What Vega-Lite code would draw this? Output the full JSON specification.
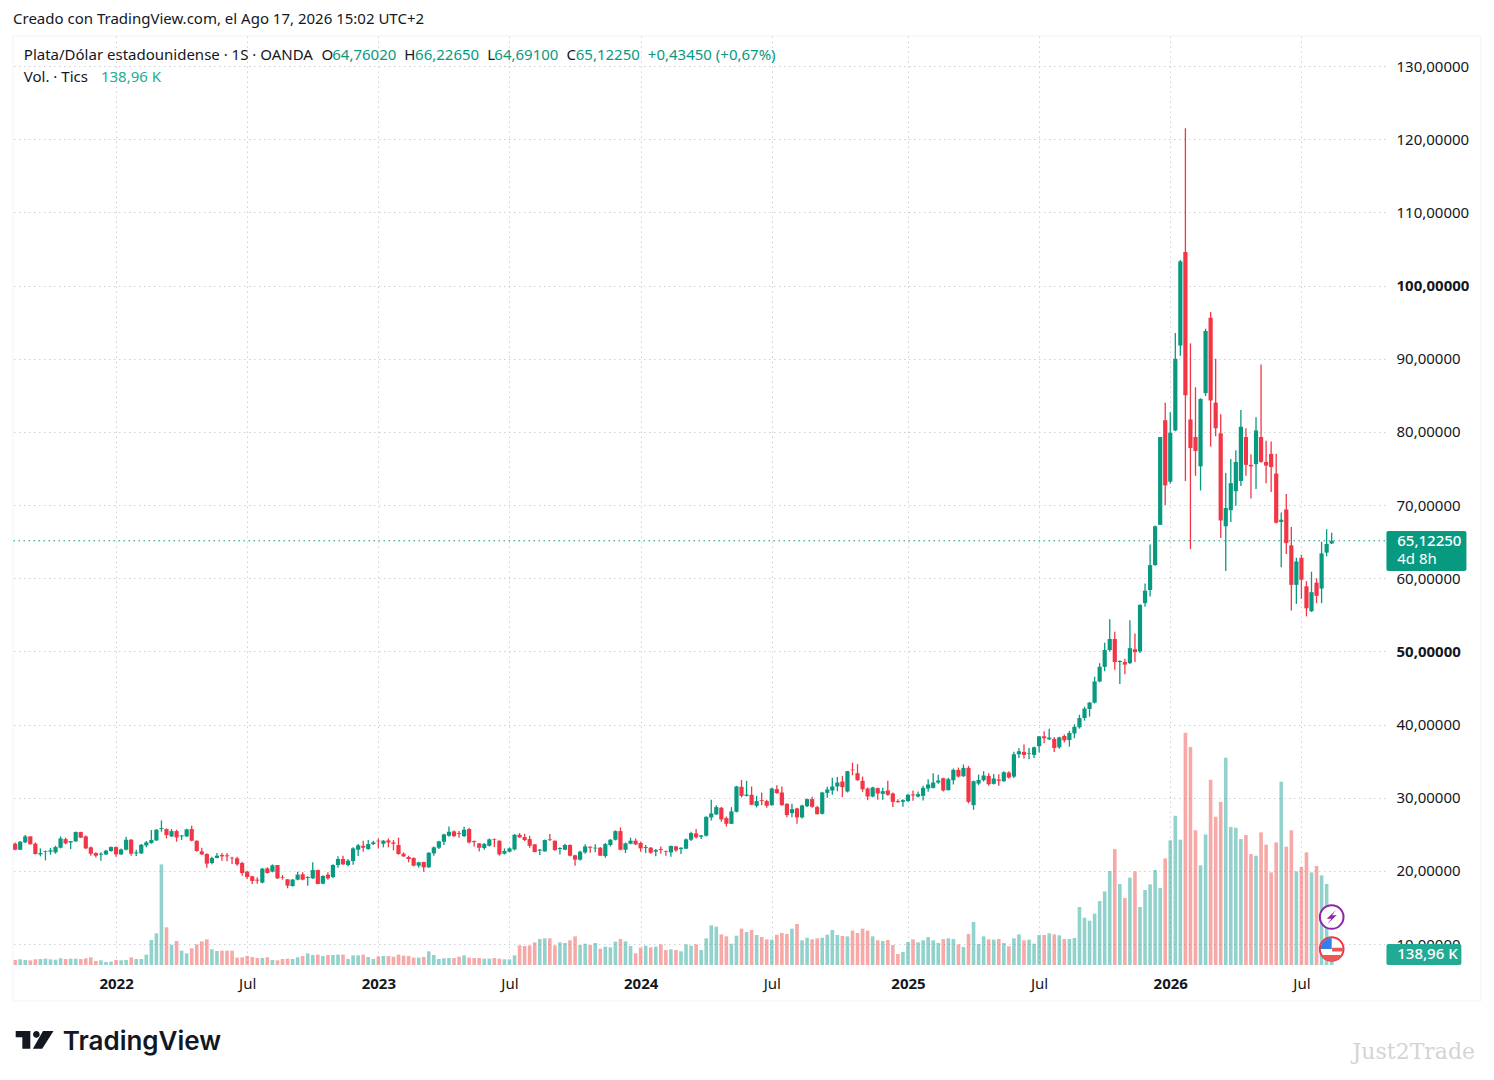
{
"$schema":"https://vega.github.io/schema/vega-lite/v6.json",
"description":"Plata/Dólar estadounidense, velas semanales OANDA con volumen de tics.",
"width":1372,"height":929,
"autosize":"none",
"padding":{"left":13,"top":36,"right":109,"bottom":115},
"background":"#ffffff",
"title":{"text":"Creado con TradingView.com, el Ago 17, 2026 15:02 UTC+2","anchor":"start","frame":"group","font":"Noto Sans","fontSize":15,"fontWeight":"normal","color":"#131722","offset":9},
"config":{"view":{"stroke":null},"axis":{"title":null},"text":{"font":"Noto Sans","fontSize":15}},
"datasets":{"semanal":[
{"d":"2021-08-16","o":23.73,"h":23.91,"l":22.82,"c":22.91,"v":63},
{"d":"2021-08-23","o":22.91,"h":24.09,"l":22.91,"c":24.0,"v":72},
{"d":"2021-08-30","o":23.91,"h":24.91,"l":23.82,"c":24.73,"v":63},
{"d":"2021-09-06","o":24.73,"h":24.73,"l":23.64,"c":23.64,"v":59},
{"d":"2021-09-13","o":23.73,"h":23.91,"l":22.27,"c":22.32,"v":72},
{"d":"2021-09-20","o":22.27,"h":23.09,"l":22.0,"c":22.45,"v":76},
{"d":"2021-09-27","o":22.59,"h":22.82,"l":21.45,"c":22.68,"v":80},
{"d":"2021-10-04","o":22.64,"h":23.14,"l":22.23,"c":22.82,"v":72},
{"d":"2021-10-11","o":22.55,"h":23.45,"l":22.36,"c":23.27,"v":67},
{"d":"2021-10-18","o":23.18,"h":24.73,"l":23.09,"c":24.45,"v":84},
{"d":"2021-10-25","o":24.36,"h":24.55,"l":23.64,"c":23.77,"v":76},
{"d":"2021-11-01","o":23.91,"h":24.09,"l":23.0,"c":24.09,"v":80},
{"d":"2021-11-08","o":24.05,"h":25.41,"l":24.0,"c":25.32,"v":80},
{"d":"2021-11-15","o":25.32,"h":25.36,"l":24.55,"c":24.55,"v":76},
{"d":"2021-11-22","o":24.73,"h":24.86,"l":23.0,"c":23.09,"v":84},
{"d":"2021-11-29","o":23.23,"h":23.36,"l":22.09,"c":22.36,"v":97},
{"d":"2021-12-06","o":22.45,"h":22.55,"l":21.86,"c":22.09,"v":51},
{"d":"2021-12-13","o":22.23,"h":22.55,"l":21.41,"c":22.36,"v":59},
{"d":"2021-12-20","o":22.27,"h":22.91,"l":22.18,"c":22.77,"v":38},
{"d":"2021-12-27","o":22.73,"h":23.36,"l":22.64,"c":23.27,"v":42},
{"d":"2022-01-03","o":23.27,"h":23.36,"l":21.95,"c":22.27,"v":63},
{"d":"2022-01-10","o":22.27,"h":23.09,"l":22.18,"c":22.95,"v":59},
{"d":"2022-01-17","o":22.91,"h":24.68,"l":22.82,"c":24.27,"v":63},
{"d":"2022-01-24","o":24.27,"h":24.36,"l":22.09,"c":22.36,"v":97},
{"d":"2022-01-31","o":22.41,"h":22.91,"l":22.05,"c":22.55,"v":76},
{"d":"2022-02-07","o":22.41,"h":23.68,"l":22.32,"c":23.59,"v":76},
{"d":"2022-02-14","o":23.5,"h":24.09,"l":23.23,"c":23.91,"v":131},
{"d":"2022-02-21","o":23.82,"h":25.59,"l":23.73,"c":24.23,"v":316},
{"d":"2022-02-28","o":24.18,"h":25.73,"l":24.09,"c":25.64,"v":400},
{"d":"2022-03-07","o":25.73,"h":26.91,"l":25.36,"c":25.86,"v":1271},
{"d":"2022-03-14","o":25.73,"h":25.82,"l":24.45,"c":24.91,"v":476},
{"d":"2022-03-21","o":24.73,"h":25.73,"l":24.64,"c":25.45,"v":257},
{"d":"2022-03-28","o":25.45,"h":25.64,"l":24.0,"c":24.59,"v":303},
{"d":"2022-04-04","o":24.73,"h":24.91,"l":24.23,"c":24.86,"v":181},
{"d":"2022-04-11","o":24.73,"h":25.77,"l":24.64,"c":25.68,"v":147},
{"d":"2022-04-18","o":25.73,"h":26.18,"l":24.05,"c":24.14,"v":211},
{"d":"2022-04-25","o":24.14,"h":24.18,"l":22.64,"c":22.73,"v":261},
{"d":"2022-05-02","o":22.68,"h":23.18,"l":22.18,"c":22.27,"v":299},
{"d":"2022-05-09","o":22.32,"h":22.41,"l":20.45,"c":21.0,"v":324},
{"d":"2022-05-16","o":21.09,"h":21.95,"l":20.91,"c":21.77,"v":198},
{"d":"2022-05-23","o":21.77,"h":22.45,"l":21.73,"c":22.09,"v":177},
{"d":"2022-05-30","o":22.18,"h":22.45,"l":21.41,"c":22.0,"v":181},
{"d":"2022-06-06","o":22.14,"h":22.45,"l":21.32,"c":22.0,"v":181},
{"d":"2022-06-13","o":21.82,"h":21.95,"l":20.95,"c":21.73,"v":181},
{"d":"2022-06-20","o":21.73,"h":21.95,"l":20.73,"c":20.91,"v":93},
{"d":"2022-06-27","o":21.09,"h":21.27,"l":19.36,"c":19.73,"v":97},
{"d":"2022-07-04","o":19.91,"h":20.05,"l":18.91,"c":19.18,"v":114},
{"d":"2022-07-11","o":19.27,"h":19.36,"l":18.23,"c":18.64,"v":101},
{"d":"2022-07-18","o":18.82,"h":19.14,"l":18.27,"c":18.68,"v":88},
{"d":"2022-07-25","o":18.41,"h":20.41,"l":18.32,"c":20.32,"v":88},
{"d":"2022-08-01","o":20.36,"h":20.5,"l":19.64,"c":19.73,"v":97},
{"d":"2022-08-08","o":19.91,"h":20.91,"l":19.82,"c":20.77,"v":63},
{"d":"2022-08-15","o":20.82,"h":20.82,"l":18.91,"c":19.0,"v":59},
{"d":"2022-08-22","o":19.14,"h":19.45,"l":18.82,"c":19.05,"v":76},
{"d":"2022-08-29","o":18.86,"h":18.91,"l":17.64,"c":18.0,"v":80},
{"d":"2022-09-05","o":17.95,"h":18.91,"l":17.86,"c":18.82,"v":76},
{"d":"2022-09-12","o":18.82,"h":19.91,"l":18.73,"c":19.5,"v":97},
{"d":"2022-09-19","o":19.55,"h":19.82,"l":18.73,"c":18.82,"v":114},
{"d":"2022-09-26","o":19.05,"h":19.27,"l":18.0,"c":19.18,"v":147},
{"d":"2022-10-03","o":19.0,"h":21.18,"l":18.91,"c":20.14,"v":126},
{"d":"2022-10-10","o":20.14,"h":20.18,"l":18.18,"c":18.23,"v":131},
{"d":"2022-10-17","o":18.27,"h":19.41,"l":18.18,"c":19.32,"v":114},
{"d":"2022-10-24","o":19.5,"h":19.82,"l":18.82,"c":19.0,"v":126},
{"d":"2022-10-31","o":19.18,"h":20.91,"l":19.0,"c":20.82,"v":126},
{"d":"2022-11-07","o":20.82,"h":22.0,"l":20.45,"c":21.64,"v":131},
{"d":"2022-11-14","o":21.64,"h":22.09,"l":20.82,"c":20.91,"v":131},
{"d":"2022-11-21","o":20.82,"h":21.64,"l":20.64,"c":21.41,"v":76},
{"d":"2022-11-28","o":21.36,"h":23.23,"l":20.86,"c":23.09,"v":122},
{"d":"2022-12-05","o":22.91,"h":23.68,"l":22.05,"c":23.5,"v":122},
{"d":"2022-12-12","o":23.45,"h":24.14,"l":22.64,"c":23.18,"v":131},
{"d":"2022-12-19","o":23.0,"h":24.23,"l":22.91,"c":23.68,"v":101},
{"d":"2022-12-26","o":23.68,"h":24.14,"l":23.55,"c":23.91,"v":76},
{"d":"2023-01-02","o":24.14,"h":24.45,"l":23.09,"c":24.05,"v":109},
{"d":"2023-01-09","o":23.73,"h":24.23,"l":23.23,"c":24.14,"v":114},
{"d":"2023-01-16","o":24.18,"h":24.45,"l":23.23,"c":23.91,"v":114},
{"d":"2023-01-23","o":23.91,"h":24.23,"l":22.82,"c":23.73,"v":105},
{"d":"2023-01-30","o":23.55,"h":24.55,"l":22.23,"c":22.32,"v":131},
{"d":"2023-02-06","o":22.36,"h":22.55,"l":21.91,"c":22.0,"v":118},
{"d":"2023-02-13","o":21.91,"h":22.09,"l":21.18,"c":21.64,"v":114},
{"d":"2023-02-20","o":21.77,"h":21.86,"l":20.64,"c":20.73,"v":93},
{"d":"2023-02-27","o":20.73,"h":21.27,"l":20.45,"c":21.18,"v":93},
{"d":"2023-03-06","o":21.23,"h":21.27,"l":19.91,"c":20.5,"v":101},
{"d":"2023-03-13","o":20.5,"h":22.55,"l":20.45,"c":22.5,"v":173},
{"d":"2023-03-20","o":22.41,"h":23.36,"l":22.09,"c":23.23,"v":126},
{"d":"2023-03-27","o":23.18,"h":24.14,"l":23.0,"c":24.05,"v":76},
{"d":"2023-04-03","o":24.0,"h":25.09,"l":23.55,"c":25.0,"v":84},
{"d":"2023-04-10","o":24.82,"h":26.09,"l":24.68,"c":25.36,"v":88},
{"d":"2023-04-17","o":25.41,"h":25.55,"l":24.64,"c":24.77,"v":88},
{"d":"2023-04-24","o":25.18,"h":25.45,"l":24.55,"c":25.05,"v":105},
{"d":"2023-05-01","o":24.77,"h":26.05,"l":24.64,"c":25.64,"v":122},
{"d":"2023-05-08","o":25.73,"h":25.91,"l":23.77,"c":23.91,"v":93},
{"d":"2023-05-15","o":24.09,"h":24.18,"l":23.36,"c":23.95,"v":88},
{"d":"2023-05-22","o":23.77,"h":23.82,"l":22.68,"c":23.18,"v":88},
{"d":"2023-05-29","o":23.14,"h":23.82,"l":22.91,"c":23.68,"v":80},
{"d":"2023-06-05","o":23.45,"h":24.45,"l":23.36,"c":24.32,"v":80},
{"d":"2023-06-12","o":24.36,"h":24.45,"l":23.27,"c":24.27,"v":88},
{"d":"2023-06-19","o":24.14,"h":24.18,"l":22.09,"c":22.27,"v":80},
{"d":"2023-06-26","o":22.36,"h":23.09,"l":22.27,"c":22.73,"v":72},
{"d":"2023-07-03","o":22.64,"h":23.23,"l":22.55,"c":23.09,"v":72},
{"d":"2023-07-10","o":22.95,"h":25.05,"l":22.82,"c":24.95,"v":122},
{"d":"2023-07-17","o":24.95,"h":25.18,"l":24.55,"c":24.59,"v":248},
{"d":"2023-07-24","o":24.64,"h":25.09,"l":24.09,"c":24.23,"v":240},
{"d":"2023-07-31","o":24.36,"h":24.82,"l":23.18,"c":23.45,"v":248},
{"d":"2023-08-07","o":23.64,"h":23.68,"l":22.55,"c":22.59,"v":286},
{"d":"2023-08-14","o":22.77,"h":23.0,"l":22.18,"c":22.91,"v":328},
{"d":"2023-08-21","o":22.68,"h":24.32,"l":22.64,"c":24.23,"v":337},
{"d":"2023-08-28","o":24.32,"h":25.05,"l":24.09,"c":24.23,"v":337},
{"d":"2023-09-04","o":24.14,"h":24.18,"l":22.77,"c":22.86,"v":248},
{"d":"2023-09-11","o":23.0,"h":23.23,"l":22.27,"c":23.14,"v":286},
{"d":"2023-09-18","o":22.91,"h":23.73,"l":22.82,"c":23.55,"v":278},
{"d":"2023-09-25","o":23.55,"h":23.64,"l":22.0,"c":22.09,"v":312},
{"d":"2023-10-02","o":22.14,"h":22.23,"l":20.73,"c":21.55,"v":362},
{"d":"2023-10-09","o":21.55,"h":22.77,"l":21.45,"c":22.64,"v":253},
{"d":"2023-10-16","o":22.55,"h":23.64,"l":22.36,"c":23.36,"v":269},
{"d":"2023-10-23","o":23.32,"h":23.36,"l":22.5,"c":23.18,"v":253},
{"d":"2023-10-30","o":23.09,"h":23.64,"l":22.55,"c":23.18,"v":278},
{"d":"2023-11-06","o":23.18,"h":23.27,"l":22.09,"c":22.09,"v":206},
{"d":"2023-11-13","o":22.05,"h":23.82,"l":21.82,"c":23.68,"v":232},
{"d":"2023-11-20","o":23.55,"h":24.36,"l":23.36,"c":24.27,"v":223},
{"d":"2023-11-27","o":24.27,"h":25.55,"l":24.18,"c":25.45,"v":295},
{"d":"2023-12-04","o":25.45,"h":25.95,"l":22.82,"c":22.91,"v":328},
{"d":"2023-12-11","o":22.91,"h":23.91,"l":22.45,"c":23.77,"v":299},
{"d":"2023-12-18","o":23.73,"h":24.55,"l":23.64,"c":24.14,"v":240},
{"d":"2023-12-25","o":24.14,"h":24.45,"l":23.55,"c":23.64,"v":147},
{"d":"2024-01-01","o":23.82,"h":24.0,"l":22.64,"c":23.09,"v":219},
{"d":"2024-01-08","o":23.14,"h":23.55,"l":22.45,"c":23.27,"v":244},
{"d":"2024-01-15","o":23.18,"h":23.27,"l":22.36,"c":22.5,"v":223},
{"d":"2024-01-22","o":22.64,"h":23.0,"l":22.0,"c":22.86,"v":232},
{"d":"2024-01-29","o":23.0,"h":23.36,"l":22.36,"c":22.86,"v":261},
{"d":"2024-02-05","o":22.73,"h":22.8,"l":22.09,"c":22.64,"v":189},
{"d":"2024-02-12","o":22.55,"h":23.5,"l":21.95,"c":23.41,"v":198},
{"d":"2024-02-19","o":23.36,"h":23.41,"l":22.64,"c":22.82,"v":189},
{"d":"2024-02-26","o":23.0,"h":23.23,"l":22.32,"c":23.18,"v":173},
{"d":"2024-03-04","o":23.05,"h":24.45,"l":23.0,"c":24.32,"v":261},
{"d":"2024-03-11","o":24.27,"h":25.36,"l":24.09,"c":25.18,"v":244},
{"d":"2024-03-18","o":25.14,"h":25.73,"l":24.45,"c":24.59,"v":261},
{"d":"2024-03-25","o":24.68,"h":24.91,"l":24.36,"c":24.86,"v":189},
{"d":"2024-04-01","o":24.82,"h":27.45,"l":24.73,"c":27.41,"v":337},
{"d":"2024-04-08","o":27.32,"h":29.73,"l":26.91,"c":27.86,"v":501},
{"d":"2024-04-15","o":27.73,"h":29.0,"l":27.64,"c":28.73,"v":484},
{"d":"2024-04-22","o":28.64,"h":28.73,"l":26.73,"c":27.05,"v":387},
{"d":"2024-04-29","o":27.23,"h":27.45,"l":26.05,"c":26.45,"v":362},
{"d":"2024-05-06","o":26.45,"h":28.73,"l":26.41,"c":28.14,"v":269},
{"d":"2024-05-13","o":28.09,"h":31.64,"l":28.0,"c":31.55,"v":370},
{"d":"2024-05-20","o":31.5,"h":32.45,"l":30.05,"c":30.27,"v":459},
{"d":"2024-05-27","o":30.27,"h":32.32,"l":30.18,"c":30.45,"v":417},
{"d":"2024-06-03","o":30.41,"h":31.55,"l":29.0,"c":29.05,"v":442},
{"d":"2024-06-10","o":28.91,"h":30.27,"l":28.68,"c":29.55,"v":379},
{"d":"2024-06-17","o":29.68,"h":30.73,"l":29.0,"c":29.55,"v":354},
{"d":"2024-06-24","o":29.55,"h":29.73,"l":28.64,"c":28.91,"v":324},
{"d":"2024-07-01","o":29.0,"h":31.36,"l":28.91,"c":31.27,"v":320},
{"d":"2024-07-08","o":31.18,"h":31.73,"l":30.55,"c":30.64,"v":383},
{"d":"2024-07-15","o":30.73,"h":31.55,"l":28.91,"c":29.0,"v":404},
{"d":"2024-07-22","o":29.18,"h":29.27,"l":27.36,"c":27.64,"v":392},
{"d":"2024-07-29","o":27.91,"h":29.18,"l":27.36,"c":28.45,"v":459},
{"d":"2024-08-05","o":28.55,"h":28.64,"l":26.45,"c":27.32,"v":518},
{"d":"2024-08-12","o":27.32,"h":29.05,"l":27.18,"c":28.95,"v":312},
{"d":"2024-08-19","o":28.86,"h":29.91,"l":28.73,"c":29.82,"v":345},
{"d":"2024-08-26","o":29.82,"h":30.14,"l":28.64,"c":28.77,"v":324},
{"d":"2024-09-02","o":28.73,"h":28.91,"l":27.73,"c":27.77,"v":337},
{"d":"2024-09-09","o":27.82,"h":30.82,"l":27.73,"c":30.73,"v":345},
{"d":"2024-09-16","o":30.68,"h":31.5,"l":30.0,"c":31.14,"v":383},
{"d":"2024-09-23","o":31.0,"h":32.73,"l":30.41,"c":31.55,"v":442},
{"d":"2024-09-30","o":31.55,"h":32.86,"l":30.91,"c":32.09,"v":379},
{"d":"2024-10-07","o":32.23,"h":33.0,"l":30.09,"c":31.45,"v":366},
{"d":"2024-10-14","o":30.86,"h":33.68,"l":30.73,"c":33.64,"v":362},
{"d":"2024-10-21","o":33.86,"h":34.82,"l":33.09,"c":33.77,"v":434},
{"d":"2024-10-28","o":33.36,"h":34.59,"l":32.32,"c":32.41,"v":404},
{"d":"2024-11-04","o":32.32,"h":32.91,"l":30.82,"c":31.18,"v":459},
{"d":"2024-11-11","o":31.27,"h":31.41,"l":29.68,"c":30.18,"v":434},
{"d":"2024-11-18","o":30.18,"h":31.5,"l":30.09,"c":31.41,"v":362},
{"d":"2024-11-25","o":31.32,"h":31.41,"l":29.73,"c":30.59,"v":312},
{"d":"2024-12-02","o":30.55,"h":31.36,"l":29.73,"c":30.91,"v":303},
{"d":"2024-12-09","o":31.0,"h":32.32,"l":30.27,"c":30.41,"v":316},
{"d":"2024-12-16","o":30.59,"h":30.73,"l":28.73,"c":29.45,"v":253},
{"d":"2024-12-23","o":29.55,"h":29.82,"l":29.32,"c":29.41,"v":139},
{"d":"2024-12-30","o":29.45,"h":29.82,"l":28.77,"c":29.68,"v":164},
{"d":"2025-01-06","o":29.55,"h":30.55,"l":29.45,"c":30.41,"v":290},
{"d":"2025-01-13","o":30.45,"h":31.0,"l":29.59,"c":30.32,"v":324},
{"d":"2025-01-20","o":30.18,"h":30.86,"l":30.05,"c":30.5,"v":286},
{"d":"2025-01-27","o":30.27,"h":31.64,"l":29.64,"c":31.36,"v":312},
{"d":"2025-02-03","o":31.27,"h":32.55,"l":30.82,"c":31.82,"v":354},
{"d":"2025-02-10","o":31.36,"h":33.36,"l":31.27,"c":32.09,"v":312},
{"d":"2025-02-17","o":32.09,"h":33.14,"l":31.91,"c":32.36,"v":278},
{"d":"2025-02-24","o":32.68,"h":32.73,"l":30.86,"c":31.0,"v":328},
{"d":"2025-03-03","o":31.05,"h":32.73,"l":31.0,"c":32.55,"v":337},
{"d":"2025-03-10","o":32.41,"h":34.0,"l":31.82,"c":33.82,"v":328},
{"d":"2025-03-17","o":33.82,"h":34.14,"l":32.77,"c":32.91,"v":261},
{"d":"2025-03-24","o":32.95,"h":34.55,"l":32.86,"c":34.09,"v":227},
{"d":"2025-03-31","o":34.09,"h":34.36,"l":29.23,"c":29.45,"v":392},
{"d":"2025-04-07","o":29.0,"h":32.36,"l":28.36,"c":32.27,"v":543},
{"d":"2025-04-14","o":31.95,"h":33.18,"l":31.73,"c":32.45,"v":265},
{"d":"2025-04-21","o":32.41,"h":33.64,"l":32.23,"c":33.05,"v":362},
{"d":"2025-04-28","o":33.0,"h":33.36,"l":31.64,"c":31.86,"v":324},
{"d":"2025-05-05","o":31.91,"h":33.27,"l":31.82,"c":32.64,"v":320},
{"d":"2025-05-12","o":32.5,"h":33.23,"l":31.64,"c":32.32,"v":328},
{"d":"2025-05-19","o":32.27,"h":33.64,"l":32.18,"c":33.5,"v":278},
{"d":"2025-05-26","o":33.45,"h":33.64,"l":32.64,"c":32.77,"v":236},
{"d":"2025-06-02","o":32.9,"h":36.3,"l":32.7,"c":35.95,"v":337},
{"d":"2025-06-09","o":35.95,"h":36.77,"l":35.45,"c":36.36,"v":387},
{"d":"2025-06-16","o":36.27,"h":37.27,"l":35.36,"c":35.86,"v":312},
{"d":"2025-06-23","o":36.0,"h":36.8,"l":35.27,"c":36.09,"v":320},
{"d":"2025-06-30","o":35.86,"h":37.0,"l":35.45,"c":36.9,"v":269},
{"d":"2025-07-07","o":37.05,"h":38.45,"l":36.18,"c":38.4,"v":379},
{"d":"2025-07-14","o":38.4,"h":39.1,"l":37.45,"c":38.14,"v":379},
{"d":"2025-07-21","o":38.0,"h":39.45,"l":37.9,"c":38.23,"v":400},
{"d":"2025-07-28","o":38.05,"h":38.3,"l":36.27,"c":36.8,"v":387},
{"d":"2025-08-04","o":36.9,"h":38.36,"l":36.7,"c":38.27,"v":375},
{"d":"2025-08-11","o":38.45,"h":38.64,"l":37.55,"c":37.86,"v":328},
{"d":"2025-08-18","o":37.9,"h":39.14,"l":37.0,"c":38.86,"v":328},
{"d":"2025-08-25","o":38.8,"h":40.05,"l":38.14,"c":39.7,"v":341},
{"d":"2025-09-01","o":39.64,"h":41.36,"l":39.45,"c":40.9,"v":733},
{"d":"2025-09-08","o":40.9,"h":42.45,"l":40.55,"c":42.18,"v":598},
{"d":"2025-09-15","o":42.14,"h":43.1,"l":41.1,"c":43.0,"v":560},
{"d":"2025-09-22","o":43.0,"h":46.55,"l":42.9,"c":45.9,"v":648},
{"d":"2025-09-29","o":45.9,"h":48.4,"l":45.8,"c":47.9,"v":808},
{"d":"2025-10-06","o":47.9,"h":51.2,"l":47.3,"c":50.2,"v":930},
{"d":"2025-10-13","o":50.2,"h":54.4,"l":50.0,"c":51.7,"v":1187},
{"d":"2025-10-20","o":51.7,"h":52.7,"l":47.5,"c":48.55,"v":1465},
{"d":"2025-10-27","o":48.55,"h":48.8,"l":45.55,"c":48.7,"v":1023},
{"d":"2025-11-03","o":48.55,"h":49.0,"l":46.9,"c":48.2,"v":846},
{"d":"2025-11-10","o":48.4,"h":54.27,"l":48.3,"c":50.45,"v":1103},
{"d":"2025-11-17","o":50.3,"h":52.45,"l":48.55,"c":49.9,"v":1183},
{"d":"2025-11-24","o":50.0,"h":56.45,"l":49.8,"c":56.36,"v":733},
{"d":"2025-12-01","o":56.6,"h":59.3,"l":56.1,"c":58.3,"v":947},
{"d":"2025-12-08","o":58.4,"h":64.6,"l":57.5,"c":61.8,"v":1019},
{"d":"2025-12-15","o":61.8,"h":67.2,"l":61.7,"c":67.1,"v":1200},
{"d":"2025-12-22","o":67.3,"h":79.3,"l":67.3,"c":79.3,"v":973},
{"d":"2025-12-29","o":81.6,"h":84.0,"l":70.0,"c":72.7,"v":1347},
{"d":"2026-01-05","o":73.2,"h":82.7,"l":72.9,"c":79.9,"v":1575},
{"d":"2026-01-12","o":80.2,"h":93.5,"l":80.1,"c":90.0,"v":1886},
{"d":"2026-01-19","o":91.8,"h":103.5,"l":90.4,"c":103.3,"v":1583},
{"d":"2026-01-26","o":104.6,"h":121.5,"l":73.3,"c":85.0,"v":2934},
{"d":"2026-02-02","o":81.7,"h":92.1,"l":64.0,"c":77.8,"v":2753},
{"d":"2026-02-09","o":79.3,"h":86.1,"l":74.0,"c":77.4,"v":1701},
{"d":"2026-02-16","o":75.3,"h":84.6,"l":72.0,"c":84.5,"v":1259},
{"d":"2026-02-23","o":85.3,"h":94.1,"l":84.9,"c":93.8,"v":1650},
{"d":"2026-03-02","o":95.6,"h":96.4,"l":78.0,"c":84.3,"v":2341},
{"d":"2026-03-09","o":84.0,"h":90.0,"l":79.4,"c":80.5,"v":1873},
{"d":"2026-03-16","o":79.8,"h":82.4,"l":65.5,"c":67.9,"v":2059},
{"d":"2026-03-23","o":67.1,"h":74.4,"l":61.0,"c":69.6,"v":2619},
{"d":"2026-03-30","o":69.3,"h":76.3,"l":67.7,"c":73.0,"v":1743},
{"d":"2026-04-06","o":71.9,"h":77.5,"l":69.9,"c":75.9,"v":1735},
{"d":"2026-04-13","o":73.3,"h":83.0,"l":72.6,"c":80.7,"v":1591},
{"d":"2026-04-20","o":79.3,"h":80.5,"l":74.0,"c":75.5,"v":1642},
{"d":"2026-04-27","o":75.5,"h":76.9,"l":70.9,"c":75.3,"v":1402},
{"d":"2026-05-04","o":75.6,"h":82.0,"l":72.2,"c":80.2,"v":1381},
{"d":"2026-05-11","o":79.3,"h":89.2,"l":75.8,"c":75.9,"v":1676},
{"d":"2026-05-18","o":75.9,"h":78.8,"l":73.0,"c":75.4,"v":1520},
{"d":"2026-05-25","o":77.0,"h":78.7,"l":71.8,"c":75.2,"v":1170},
{"d":"2026-06-01","o":74.3,"h":77.0,"l":67.5,"c":67.6,"v":1549},
{"d":"2026-06-08","o":67.7,"h":69.0,"l":61.5,"c":68.0,"v":2316},
{"d":"2026-06-15","o":69.4,"h":71.5,"l":63.3,"c":64.8,"v":1495},
{"d":"2026-06-22","o":64.5,"h":67.0,"l":55.6,"c":59.1,"v":1701},
{"d":"2026-06-29","o":59.1,"h":62.8,"l":56.5,"c":62.3,"v":1183},
{"d":"2026-07-06","o":62.8,"h":63.2,"l":57.2,"c":59.8,"v":1238},
{"d":"2026-07-13","o":58.9,"h":59.6,"l":54.8,"c":55.9,"v":1423},
{"d":"2026-07-20","o":55.5,"h":60.9,"l":55.4,"c":58.1,"v":1170},
{"d":"2026-07-27","o":59.4,"h":60.0,"l":56.6,"c":57.6,"v":1250},
{"d":"2026-08-03","o":58.6,"h":65.0,"l":56.6,"c":63.4,"v":1132},
{"d":"2026-08-10","o":63.5,"h":66.7,"l":63.0,"c":64.69,"v":1023},
{"d":"2026-08-17","o":64.7602,"h":66.2265,"l":64.691,"c":65.1225,"v":138.96}
]},
"resolve":{"scale":{"y":"independent"}},
"layer":[
{"layer":[
{"data":{"name":"semanal"},
"mark":{"type":"bar","size":3.6,"orient":"vertical","opacity":0.5},
"encoding":{
"x":{"field":"d","type":"temporal","scale":{"type":"utc","domain":["2021-08-13","2026-10-30"],"nice":false,"padding":0},
"axis":{"orient":"bottom","domain":false,"ticks":false,"labelPadding":11,"labelFont":"Noto Sans","labelFontSize":15,"labelColor":"#131722",
"grid":true,"gridColor":"#cdd0d8","gridDash":[1.5,3.5],"gridWidth":1,
"values":[{"year":2022,"month":1,"date":3,"utc":true},{"year":2022,"month":7,"date":4,"utc":true},{"year":2023,"month":1,"date":2,"utc":true},{"year":2023,"month":7,"date":3,"utc":true},{"year":2024,"month":1,"date":1,"utc":true},{"year":2024,"month":7,"date":1,"utc":true},{"year":2025,"month":1,"date":6,"utc":true},{"year":2025,"month":7,"date":7,"utc":true},{"year":2026,"month":1,"date":5,"utc":true},{"year":2026,"month":7,"date":6,"utc":true}],
"labelExpr":"utcmonth(datum.value)==6?'Jul':''+utcyear(datum.value)",
"labelFontWeight":{"condition":{"test":"utcmonth(datum.value)==0","value":700},"value":400}}},
"y":{"field":"v","type":"quantitative","scale":{"domain":[0,11736],"nice":false,"zero":true},"axis":null},
"color":{"condition":{"test":"datum.c>=datum.o","value":"#26a69a"},"value":"#ef5350"}}}
]},
{"data":{"values":[{}]},
"layer":[
{"mark":{"type":"rect","fillOpacity":0,"stroke":"#f0f3fa","strokeWidth":1},
"encoding":{"x":{"datum":{"year":2021,"month":8,"date":13,"utc":true},"type":"temporal"},"x2":{"datum":{"year":2027,"month":3,"date":12,"utc":true}},"y":{"datum":134.1,"scale":{"domain":[7.155,134.1],"nice":false,"zero":false},
"axis":{"orient":"right","domain":false,"ticks":false,"labelPadding":11,"labelFont":"Noto Sans","labelFontSize":15,"labelColor":"#131722",
"grid":true,"gridColor":"#cdd0d8","gridDash":[1.5,3.5],"gridWidth":1,
"values":[10,20,30,40,50,60,70,80,90,100,110,120,130],
"labelExpr":"replace(format(datum.value,'.5f'),'.',',')",
"labelFontWeight":{"condition":{"test":"datum.value==50||datum.value==100","value":700},"value":400}}},"y2":{"datum":2.24}}},
{"mark":{"type":"rule","color":"#089981","strokeDash":[1.5,3.5],"strokeWidth":1},
"encoding":{"y":{"datum":65.1225}}},
{"data":{"name":"semanal"},
"mark":{"type":"rule","strokeWidth":1.3},
"encoding":{"x":{"field":"d","type":"temporal"},"y":{"field":"l","type":"quantitative"},"y2":{"field":"h"},
"color":{"condition":{"test":"datum.c>=datum.o","value":"#089981"},"value":"#f23645"}}},
{"data":{"name":"semanal"},
"mark":{"type":"bar","size":4.2,"orient":"vertical"},
"encoding":{"x":{"field":"d","type":"temporal"},"y":{"field":"o","type":"quantitative"},"y2":{"field":"c"},
"color":{"condition":{"test":"datum.c>=datum.o","value":"#089981"},"value":"#f23645"}}},
{"mark":{"type":"text","text":"Plata/Dólar estadounidense · 1S · OANDA","align":"left","color":"#131722"},"encoding":{"x":{"datum":{"year":2021,"month":8,"date":28,"utc":true},"type":"temporal"},"y":{"datum":131.5}}},
{"mark":{"type":"text","text":"O","align":"left","color":"#131722"},"encoding":{"x":{"datum":{"year":2022,"month":10,"date":15,"utc":true},"type":"temporal"},"y":{"datum":131.5}}},
{"mark":{"type":"text","text":"64,76020","align":"left","color":"#089981"},"encoding":{"x":{"datum":{"year":2022,"month":10,"date":30,"utc":true},"type":"temporal"},"y":{"datum":131.5}}},
{"mark":{"type":"text","text":"H","align":"left","color":"#131722"},"encoding":{"x":{"datum":{"year":2023,"month":2,"date":7,"utc":true},"type":"temporal"},"y":{"datum":131.5}}},
{"mark":{"type":"text","text":"66,22650","align":"left","color":"#089981"},"encoding":{"x":{"datum":{"year":2023,"month":2,"date":22,"utc":true},"type":"temporal"},"y":{"datum":131.5}}},
{"mark":{"type":"text","text":"L","align":"left","color":"#131722"},"encoding":{"x":{"datum":{"year":2023,"month":6,"date":2,"utc":true},"type":"temporal"},"y":{"datum":131.5}}},
{"mark":{"type":"text","text":"64,69100","align":"left","color":"#089981"},"encoding":{"x":{"datum":{"year":2023,"month":6,"date":12,"utc":true},"type":"temporal"},"y":{"datum":131.5}}},
{"mark":{"type":"text","text":"C","align":"left","color":"#131722"},"encoding":{"x":{"datum":{"year":2023,"month":9,"date":20,"utc":true},"type":"temporal"},"y":{"datum":131.5}}},
{"mark":{"type":"text","text":"65,12250","align":"left","color":"#089981"},"encoding":{"x":{"datum":{"year":2023,"month":10,"date":3,"utc":true},"type":"temporal"},"y":{"datum":131.5}}},
{"mark":{"type":"text","text":"+0,43450 (+0,67%)","align":"left","color":"#089981"},"encoding":{"x":{"datum":{"year":2024,"month":1,"date":11,"utc":true},"type":"temporal"},"y":{"datum":131.5}}},
{"mark":{"type":"text","text":"Vol. · Tics","align":"left","color":"#131722"},"encoding":{"x":{"datum":{"year":2021,"month":8,"date":28,"utc":true},"type":"temporal"},"y":{"datum":128.5}}},
{"mark":{"type":"text","text":"138,96 K","align":"left","color":"#22ab94"},"encoding":{"x":{"datum":{"year":2021,"month":12,"date":13,"utc":true},"type":"temporal"},"y":{"datum":128.5}}},
{"mark":{"type":"rect","color":"#089981","cornerRadius":2},"encoding":{"x":{"datum":{"year":2026,"month":11,"date":1,"utc":true},"type":"temporal"},"x2":{"datum":{"year":2027,"month":2,"date":20,"utc":true}},"y":{"datum":66.46},"y2":{"datum":60.99}}},
{"mark":{"type":"text","text":"65,12250","align":"left","color":"#ffffff","fontWeight":500},"encoding":{"x":{"datum":{"year":2026,"month":11,"date":16,"utc":true},"type":"temporal"},"y":{"datum":65.12}}},
{"mark":{"type":"text","text":"4d 8h","align":"left","color":"#ffffff"},"encoding":{"x":{"datum":{"year":2026,"month":11,"date":16,"utc":true},"type":"temporal"},"y":{"datum":62.64}}},
{"mark":{"type":"rect","color":"#22ab94","cornerRadius":2},"encoding":{"x":{"datum":{"year":2026,"month":11,"date":1,"utc":true},"type":"temporal"},"x2":{"datum":{"year":2027,"month":2,"date":13,"utc":true}},"y":{"datum":10.02},"y2":{"datum":7.155}}},
{"mark":{"type":"text","text":"138,96 K","align":"left","color":"#ffffff","fontWeight":500},"encoding":{"x":{"datum":{"year":2026,"month":11,"date":16,"utc":true},"type":"temporal"},"y":{"datum":8.66}}},
{"mark":{"type":"point","shape":"circle","size":560,"filled":true,"fill":"#ffffff","opacity":1,"stroke":"#8e24aa","strokeWidth":2},"encoding":{"x":{"datum":{"year":2026,"month":8,"date":17,"utc":true},"type":"temporal"},"y":{"datum":13.71}}},
{"mark":{"type":"point","shape":"M0.6 -1L-0.7 0.25H-0.05L-0.6 1L0.7 -0.25H0.05Z","size":200,"filled":true,"fill":"#8e24aa","opacity":1,"strokeWidth":0},"encoding":{"x":{"datum":{"year":2026,"month":8,"date":17,"utc":true},"type":"temporal"},"y":{"datum":13.71}}},
{"mark":{"type":"point","shape":"circle","size":560,"filled":true,"fill":"#ffffff","opacity":1,"stroke":"#f23645","strokeWidth":2},"encoding":{"x":{"datum":{"year":2026,"month":8,"date":17,"utc":true},"type":"temporal"},"y":{"datum":9.34}}},
{"mark":{"type":"point","shape":"M-0.92 0A0.92 0.92 0 0 1 0 -0.92V0Z","size":576,"filled":true,"fill":"#2f80ed","opacity":1,"strokeWidth":0},"encoding":{"x":{"datum":{"year":2026,"month":8,"date":17,"utc":true},"type":"temporal"},"y":{"datum":9.34}}},
{"mark":{"type":"point","shape":"M0.03 -0.1H0.92V0.2H0.03ZM-0.85 0.5H0.85A0.97 0.97 0 0 1 -0.85 0.5Z","size":576,"filled":true,"fill":"#eb5757","opacity":1,"strokeWidth":0},"encoding":{"x":{"datum":{"year":2026,"month":8,"date":17,"utc":true},"type":"temporal"},"y":{"datum":9.34}}},
{"mark":{"type":"point","shape":"M-0.97 -0.44H-0.22V0.46H-0.63V-0.13H-0.97ZM-0.08 -0.27A0.17 0.17 0 1 0 0.26 -0.27A0.17 0.17 0 1 0 -0.08 -0.27ZM0.43 -0.44H0.97L0.39 0.46H-0.09Z","size":1521,"filled":true,"fill":"#131722","opacity":1,"strokeWidth":0},"encoding":{"x":{"datum":{"year":2021,"month":9,"date":12,"utc":true},"type":"temporal"},"y":{"datum":-3.05}}},
{"mark":{"type":"text","text":"TradingView","align":"left","font":"Inter","fontSize":26,"fontWeight":600,"color":"#131722"},"encoding":{"x":{"datum":{"year":2021,"month":10,"date":21,"utc":true},"type":"temporal"},"y":{"datum":-3.35}}},
{"mark":{"type":"text","text":"Just2Trade","align":"right","font":"DejaVu Serif","fontSize":22,"color":"#d4d4d4"},"encoding":{"x":{"datum":{"year":2027,"month":3,"date":4,"utc":true},"type":"temporal"},"y":{"datum":-4.73}}}
]}
]
}
